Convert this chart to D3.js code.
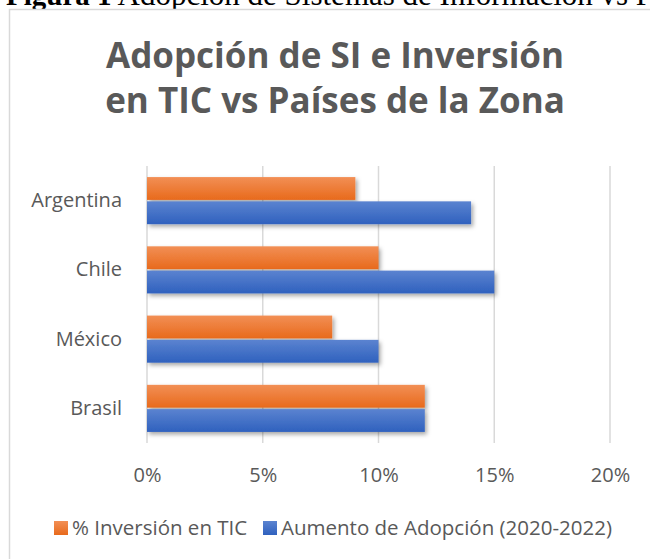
<!DOCTYPE html>
<html><head><meta charset="utf-8">
<script src="https://cdn.jsdelivr.net/npm/d3@7"></script>
<style>body{margin:0;background:#fff;overflow:hidden}</style>
</head><body>
<script>
const categories = ["Argentina","Chile","México","Brasil"];
const inversionTIC = [9,10,8,12];
const aumentoAdopcion = [14,15,10,12];
const xTicks = [0,5,10,15,20];
const seriesNames = ["% Inversión en TIC","Aumento de Adopción (2020-2022)"];
const titleLines = ["Adopción de SI e Inversión","en TIC vs Países de la Zona"];
const caption = "Figura 1";
const captionRest = " Adopción de Sistemas de Información vs Países de la Zona";

const W=650,H=559;
const FONT="Open Sans, Noto Sans, sans-serif";
const svg=d3.select("body").append("svg").attr("width",W).attr("height",H);
const defs=svg.append("defs");
function grad(id,c1,c2){const g=defs.append("linearGradient").attr("id",id).attr("x1",0).attr("y1",0).attr("x2",0).attr("y2",1);
 g.append("stop").attr("offset","0%").attr("stop-color",c1);g.append("stop").attr("offset","100%").attr("stop-color",c2);}
grad("gOr","#f28f55","#e86a1c");
grad("gBl","#5b83d0","#2f61be");
const f=defs.append("filter").attr("id","sh").attr("x","-5%").attr("y","-20%").attr("width","115%").attr("height","160%");
f.append("feDropShadow").attr("dx",2).attr("dy",2.5).attr("stdDeviation",2).attr("flood-color","#000").attr("flood-opacity",0.35);

// caption (clipped at top)
const cap=svg.append("text").attr("x",6).attr("y",5).attr("font-family","Liberation Serif, Times New Roman, serif").attr("font-size",29).attr("fill","#000");
cap.append("tspan").attr("font-weight","bold").text(caption);
cap.append("tspan").attr("font-size",31).text(captionRest);

// chart border
svg.append("rect").attr("x",9.5).attr("y",9.5).attr("width",W).attr("height",H).attr("fill","#fff").attr("stroke","#d9d9d9").attr("stroke-width",1.5);

// title
svg.append("g").selectAll("text").data(titleLines).join("text")
 .attr("x",335).attr("y",(d,i)=>68+i*45).attr("text-anchor","middle")
 .attr("font-family",FONT).attr("font-weight","bold").attr("font-size",35).attr("fill","#595959").text(d=>d);

const x=d3.scaleLinear().domain([0,20]).range([147,610]);
const y=d3.scaleBand().domain(categories).range([166,443]).paddingInner(0.32).paddingOuter(0.16);
const sub=d3.scaleBand().domain([0,1]).range([0,y.bandwidth()]).paddingInner(0.06);

// grid
svg.append("g").selectAll("line").data(xTicks).join("line")
 .attr("x1",d=>x(d)).attr("x2",d=>x(d)).attr("y1",166).attr("y2",443).attr("stroke","#d9d9d9").attr("stroke-width",1.5);

const series=[inversionTIC,aumentoAdopcion];
const fills=["url(#gOr)","url(#gBl)"];
series.forEach((vals,si)=>{
 svg.append("g").selectAll("rect").data(categories).join("rect")
  .attr("x",x(0)).attr("y",d=>y(d)+sub(si)).attr("height",sub.bandwidth())
  .attr("width",(d,i)=>x(vals[i])-x(0)).attr("fill",fills[si]).attr("filter","url(#sh)");
});

// category axis labels
const yAx=svg.append("g").attr("transform","translate(147,0)").call(d3.axisLeft(y).tickSize(0).tickPadding(25));
yAx.select(".domain").remove();
yAx.selectAll("text").attr("font-family",FONT).attr("font-size",20).attr("fill","#595959");

// x axis
const xAx=svg.append("g").attr("transform","translate(0,443)").call(d3.axisBottom(x).tickValues(xTicks).tickFormat(d=>d+"%").tickSize(0).tickPadding(25));
xAx.select(".domain").remove();
xAx.selectAll("text").attr("font-family",FONT).attr("font-size",20).attr("fill","#595959");

// legend
const leg=svg.append("g").attr("font-family",FONT).attr("font-size",20.5).attr("fill","#595959");
const lx=[54,263];
seriesNames.forEach((n,i)=>{
 leg.append("rect").attr("x",lx[i]).attr("y",521).attr("width",14).attr("height",14).attr("fill",fills[i]);
 leg.append("text").attr("x",lx[i]+18).attr("y",535).text(n);
});
</script>
</body></html>
